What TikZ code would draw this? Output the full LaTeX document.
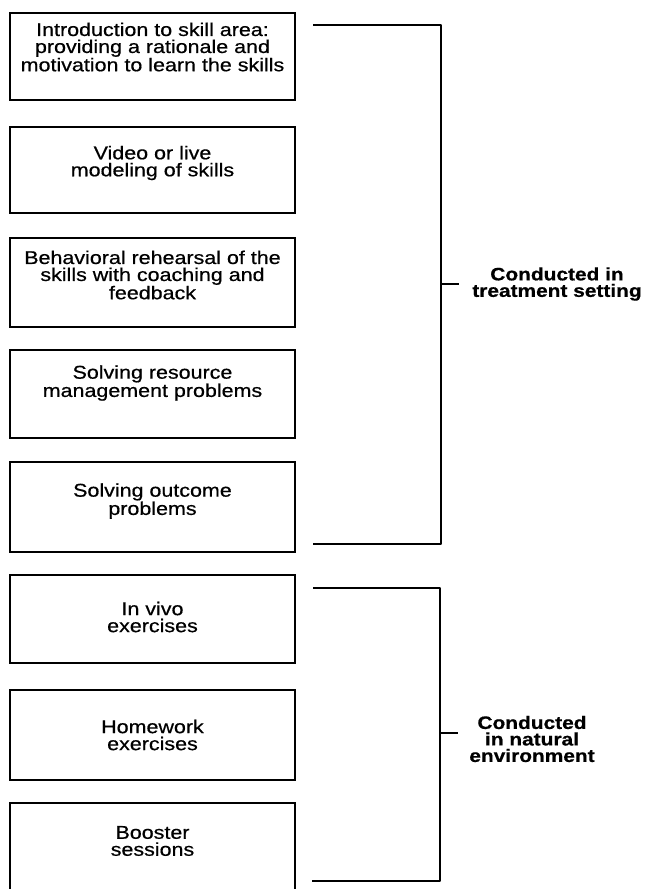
\documentclass[tikz,border=0pt]{standalone}
\usepackage{fontspec}
\setmainfont{Liberation Sans}[FakeStretch=1.16,FakeBold=0.6]
\begin{document}
\begin{tikzpicture}[x=1pt,y=-1pt,
  box/.style={draw=black,line width=2.4pt,minimum width=285pt,inner sep=0pt},
  txt/.style={align=center,inner sep=0pt,font=\fontsize{18.5}{17}\selectfont},
  grp/.style={align=center,inner sep=0pt,font=\fontsize{18}{16.5}\selectfont\bfseries},
  brk/.style={line width=2.6pt,line join=round}]
\useasboundingbox (0,0) rectangle (647,889);
\begin{scope}
\clip (0,0) rectangle (647,889);
% boxes
\node[box,minimum height=87pt] (b1) at (152.5,56.5) {};
\node[box,minimum height=86pt] (b2) at (152.5,170) {};
\node[box,minimum height=89pt] (b3) at (152.5,282.5) {};
\node[box,minimum height=88pt] (b4) at (152.5,394) {};
\node[box,minimum height=90pt] (b5) at (152.5,507) {};
\node[box,minimum height=88pt] (b6) at (152.5,619) {};
\node[box,minimum height=90pt] (b7) at (152.5,735) {};
\node[box,minimum height=90pt] (b8) at (152.5,848) {};
% texts
\node[txt] (t1) at ([yshift=9.5pt]b1.center) {Introduction to skill area:\\providing a rationale and\\motivation to learn the skills};
\node[txt] (t2) at ([yshift=7pt]b2.center) {Video or live\\modeling of skills};
\node[txt] (t3) at ([yshift=7.5pt]b3.center) {Behavioral rehearsal of the\\skills with coaching and\\feedback};
\node[txt] (t4) at ([yshift=11pt]b4.center) {Solving resource\\management problems};
\node[txt] (t5) at ([yshift=6pt]b5.center) {Solving outcome\\problems};
\node[txt] (t6) at ([yshift=2pt]b6.center) {In vivo\\exercises};
\node[txt] (t7) at (b7.center) {Homework\\exercises};
\node[txt] (t8) at ([yshift=7pt]b8.center) {Booster\\sessions};
\end{scope}
% brackets
\coordinate (a1) at (313,25);
\coordinate (a2) at (441,25);
\coordinate (a3) at (441,544);
\coordinate (a4) at (313,544);
\coordinate (am) at (441,284);
\coordinate (at) at (459,284);
\draw[brk] (a1) -- (a2) -- (a3) -- (a4);
\draw[brk] (am) -- (at);
\node[grp] (g1) at (557,284) {Conducted in\\treatment setting};
\coordinate (c1) at (313,588);
\coordinate (c2) at (440,588);
\coordinate (c3) at (440,881);
\coordinate (c4) at (312,881);
\coordinate (cm) at (440,733);
\coordinate (ct) at (458,733);
\draw[brk] (c1) -- (c2) -- (c3) -- (c4);
\draw[brk] (cm) -- (ct);
\node[grp] (g2) at (532,739) {Conducted\\in natural\\environment};
\end{tikzpicture}
\end{document}
